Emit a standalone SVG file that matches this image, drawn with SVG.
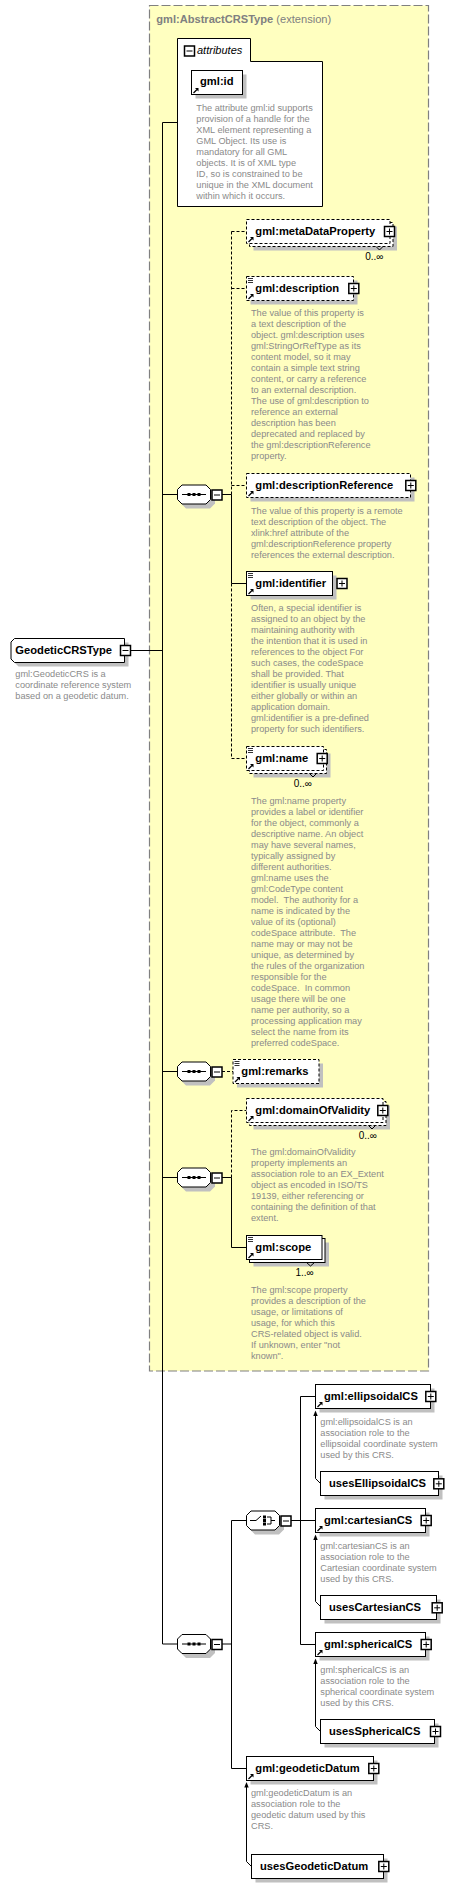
<svg xmlns="http://www.w3.org/2000/svg" width="467" height="1888" viewBox="0 0 467 1888">
<style>
.bx{fill:#fff;stroke:#000;stroke-width:1}
.db{fill:#fff;stroke:#000;stroke-width:1;stroke-dasharray:3 2}
.sh{fill:#c0c0c0}
.l{font-family:"Liberation Sans",Arial,sans-serif;font-weight:bold;font-size:11.2px;fill:#000}
.d{font-family:"Liberation Sans",Arial,sans-serif;font-size:9.2px;fill:#8a8a8a}
.o{font-family:"Liberation Sans",Arial,sans-serif;font-size:10px;fill:#000}
.c{stroke:#000;stroke-width:1;fill:none}
.dc{stroke:#000;stroke-width:1;fill:none;stroke-dasharray:3 2}
</style>
<defs>
<g id="pl"><rect x="0.5" y="0.5" width="10" height="10" fill="#fff" stroke="#000" stroke-width="1.5"/><path d="M2.5 5.5H8.5M5.5 2.5V8.5" stroke="#000" stroke-width="1"/></g>
<g id="mi"><rect x="0.5" y="0.5" width="10" height="10" fill="#fff" stroke="#000" stroke-width="1.5"/><path d="M2.5 5.5H8.5" stroke="#000" stroke-width="1"/></g>
<g id="rf"><path d="M1 7L4.5 3.5" stroke="#000" stroke-width="1.2"/><path d="M2.5 2H6V5.5Z" fill="#000"/></g>
<g id="eq"><path d="M1 1.5H6M1 3.5H6M1 5.5H6" stroke="#000" stroke-width="0.8"/></g>
<g id="seq"><polygon class="sh" points="9,4 33,4 38,9 38,19 33,24 9,24 4,19 4,9"/><polygon fill="#fff" stroke="#000" points="5,0.5 29,0.5 33.5,5 33.5,15 29,19.5 5,19.5 0.5,15 0.5,5"/><path d="M5 10H29" stroke="#000"/><rect x="10.5" y="8.5" width="3" height="3"/><rect x="15.5" y="8.5" width="3" height="3"/><rect x="20.5" y="8.5" width="3" height="3"/></g>
<g id="cho"><polygon class="sh" points="9,4 33,4 38,9 38,19 33,24 9,24 4,19 4,9"/><polygon fill="#fff" stroke="#000" points="5,0.5 29,0.5 33.5,5 33.5,15 29,19.5 5,19.5 0.5,15 0.5,5"/><path d="M4 10H10L15 5.5M21 6.5H25V13.5H21M25 10H29" stroke="#000" fill="none"/><rect x="17" y="5" width="3" height="3"/><rect x="17" y="8.5" width="3" height="3"/><rect x="17" y="12" width="3" height="3"/></g>
</defs>

<g id="ext">
<rect x="149.5" y="5.5" width="279" height="1365.5" fill="#ffffc0" stroke="#808080" stroke-width="1.2" stroke-dasharray="9 3"/>
<text x="156.3" y="22.7" font-family="Liberation Sans,Arial,sans-serif" font-size="11.1px" fill="#808080"><tspan font-weight="bold">gml:AbstractCRSType</tspan> (extension)</text>
</g>

<g id="connectors">
<path class="c" d="M177.5 122.5H162.5V1644H177"/>
<path class="c" d="M131 650.5H162.5"/>
<path class="c" d="M162.5 494.5H177"/>
<path class="c" d="M162.5 1071.5H177"/>
<path class="c" d="M162.5 1177.5H177"/>
<path class="c" d="M222 494.5H231.5"/>
<path class="dc" d="M231.5 231.5V494.5"/>
<path class="c" d="M231.5 494.5V583.5"/>
<path class="dc" d="M231.5 583.5V758.5"/>
<path class="dc" d="M231.5 231.5H246.5M231.5 288.5H246.5M231.5 485.5H246.5M231.5 758.5H246.5"/>
<path class="c" d="M231.5 583.5H246.5"/>
<path class="dc" d="M222 1071.5H233"/>
<path class="c" d="M222 1177.5H231.5"/>
<path class="dc" d="M231.5 1177.5V1110.5H246.5"/>
<path class="c" d="M231.5 1177.5V1247.5H246.5"/>
<path class="c" d="M222 1644H231.5M231.5 1520.5V1768.5H246.5M231.5 1520.5H246"/>
<path class="c" d="M291 1520.5H315.5M300.5 1396.5V1644.5H315.5M300.5 1396.5H315.5"/>
<path class="c" d="M315.5 1414V1478.5L320.5 1483.5"/>
<polygon points="313.3,1416 317.7,1416 315.5,1410.5"/>
<path class="c" d="M315.5 1538V1601.5L320.5 1606.5"/>
<polygon points="313.3,1540 317.7,1540 315.5,1534.5"/>
<path class="c" d="M315.5 1662V1726.5L320.5 1731.5"/>
<polygon points="313.3,1664 317.7,1664 315.5,1658.5"/>
<path class="c" d="M246.5 1785.5V1861.5L251.5 1866.5"/>
<polygon points="244.3,1787.5 248.7,1787.5 246.5,1782"/>
</g>

<g id="GeodeticCRSType">
<path class="sh" d="M18.5 642.5H128.5V666.5H18.5L15 663V646Z"/>
<path class="bx" d="M14.5 638.5H124.5V662.5H14.5L11 659V642Z"/>
<use href="#mi" x="120" y="645"/>
<text class="l" x="15.3" y="654.3">GeodeticCRSType</text>
<text class="d" x="15.3"><tspan x="15.3" y="677">gml:GeodeticCRS is a</tspan><tspan x="15.3" y="688">coordinate reference system</tspan><tspan x="15.3" y="699">based on a geodetic datum.</tspan></text>
</g>

<g id="attributes">
<path class="bx" d="M177.5 38.5H250.5V61.5H322.5V206.5H177.5Z"/>
<use href="#mi" x="184" y="45.5"/>
<text x="197" y="53.5" font-family="Liberation Sans,Arial,sans-serif" font-style="italic" font-size="11px">attributes</text>
</g>

<g id="gml_id">
<rect class="sh" x="195.5" y="74.5" width="51" height="24"/>
<rect class="bx" x="191.5" y="70.5" width="51" height="24"/>
<use href="#rf" x="192.5" y="86"/>
<text class="l" x="200" y="85">gml:id</text>
<text class="d"><tspan x="196.3" y="110.5">The attribute gml:id supports</tspan><tspan x="196.3" y="121.5">provision of a handle for the</tspan><tspan x="196.3" y="132.5">XML element representing a</tspan><tspan x="196.3" y="143.5">GML Object. Its use is</tspan><tspan x="196.3" y="154.5">mandatory for all GML</tspan><tspan x="196.3" y="165.5">objects. It is of XML type</tspan><tspan x="196.3" y="176.5">ID, so is constrained to be</tspan><tspan x="196.3" y="187.5">unique in the XML document</tspan><tspan x="196.3" y="198.5">within which it occurs.</tspan></text>
</g>

<g id="seq1"><use href="#seq" x="177" y="484.5"/><use href="#mi" x="211.5" y="489.5"/></g>
<g id="seq2"><use href="#seq" x="177" y="1061.5"/><use href="#mi" x="211.5" y="1066.5"/></g>
<g id="seq3"><use href="#seq" x="177" y="1167.5"/><use href="#mi" x="211.5" y="1172.5"/></g>
<g id="seq4"><use href="#seq" x="177" y="1634"/><use href="#mi" x="211.5" y="1639"/></g>
<g id="choice"><use href="#cho" x="246" y="1510.5"/><use href="#mi" x="280.5" y="1515.5"/></g>

<g id="metaDataProperty">
<rect class="sh" x="253.5" y="226.5" width="143.5" height="24"/>
<rect class="db" x="249.5" y="222.5" width="143.5" height="24"/>
<rect class="db" x="246.5" y="219.5" width="143.5" height="24"/>
<path class="c" d="M376 246.5L379.5 250L383 246.5" stroke-width="0.8"/>
<use href="#rf" x="247.5" y="235"/>
<use href="#pl" x="384" y="226"/>
<text class="l" x="255.3" y="235.2">gml:metaDataProperty</text>
<text class="o" x="383.5" y="260" text-anchor="end">0..∞</text>
</g>

<g id="description">
<rect class="sh" x="250.5" y="280.5" width="107" height="24"/>
<rect class="db" x="246.5" y="276.5" width="107" height="24"/>
<use href="#eq" x="247" y="277"/>
<use href="#rf" x="247.5" y="292"/>
<use href="#pl" x="348.3" y="283"/>
<text class="l" x="255.3" y="292.2">gml:description</text>
<text class="d"><tspan x="251" y="315.5">The value of this property is</tspan><tspan x="251" y="326.5">a text description of the</tspan><tspan x="251" y="337.5">object. gml:description uses</tspan><tspan x="251" y="348.5">gml:StringOrRefType as its</tspan><tspan x="251" y="359.5">content model, so it may</tspan><tspan x="251" y="370.5">contain a simple text string</tspan><tspan x="251" y="381.5">content, or carry a reference</tspan><tspan x="251" y="392.5">to an external description.</tspan><tspan x="251" y="403.5">The use of gml:description to</tspan><tspan x="251" y="414.5">reference an external</tspan><tspan x="251" y="425.5">description has been</tspan><tspan x="251" y="436.5">deprecated and replaced by</tspan><tspan x="251" y="447.5">the gml:descriptionReference</tspan><tspan x="251" y="458.5">property.</tspan></text>
</g>

<g id="descriptionReference">
<rect class="sh" x="250.5" y="477.5" width="164" height="24"/>
<rect class="db" x="246.5" y="473.5" width="164" height="24"/>
<use href="#rf" x="247.5" y="489"/>
<use href="#pl" x="405.3" y="480"/>
<text class="l" x="255.3" y="489.2">gml:descriptionReference</text>
<text class="d"><tspan x="251" y="513.5">The value of this property is a remote</tspan><tspan x="251" y="524.5">text description of the object. The</tspan><tspan x="251" y="535.5">xlink:href attribute of the</tspan><tspan x="251" y="546.5">gml:descriptionReference property</tspan><tspan x="251" y="557.5">references the external description.</tspan></text>
</g>

<g id="identifier">
<rect class="sh" x="250.5" y="575.5" width="86" height="24"/>
<rect class="bx" x="246.5" y="571.5" width="86" height="24"/>
<use href="#eq" x="247" y="572"/>
<use href="#rf" x="247.5" y="587"/>
<use href="#pl" x="336.5" y="578"/>
<text class="l" x="255.3" y="587.2">gml:identifier</text>
<text class="d"><tspan x="251" y="610.7">Often, a special identifier is</tspan><tspan x="251" y="621.7">assigned to an object by the</tspan><tspan x="251" y="632.7">maintaining authority with</tspan><tspan x="251" y="643.7">the intention that it is used in</tspan><tspan x="251" y="654.7">references to the object For</tspan><tspan x="251" y="665.7">such cases, the codeSpace</tspan><tspan x="251" y="676.7">shall be provided. That</tspan><tspan x="251" y="687.7">identifier is usually unique</tspan><tspan x="251" y="698.7">either globally or within an</tspan><tspan x="251" y="709.7">application domain.</tspan><tspan x="251" y="720.7">gml:identifier is a pre-defined</tspan><tspan x="251" y="731.7">property for such identifiers.</tspan></text>
</g>

<g id="name">
<rect class="sh" x="253.5" y="753.5" width="77" height="24"/>
<rect class="db" x="249.5" y="749.5" width="77" height="24"/>
<rect class="db" x="246.5" y="746.5" width="77" height="24"/>
<path class="c" d="M309.5 773.5L313 777L316.5 773.5" stroke-width="0.8"/>
<use href="#eq" x="247" y="747"/>
<use href="#rf" x="247.5" y="762"/>
<use href="#pl" x="316.7" y="753"/>
<text class="l" x="255.3" y="762.2">gml:name</text>
<text class="o" x="312" y="786.7" text-anchor="end">0..∞</text>
<text class="d"><tspan x="251" y="803.5">The gml:name property</tspan><tspan x="251" y="814.5">provides a label or identifier</tspan><tspan x="251" y="825.5">for the object, commonly a</tspan><tspan x="251" y="836.5">descriptive name. An object</tspan><tspan x="251" y="847.5">may have several names,</tspan><tspan x="251" y="858.5">typically assigned by</tspan><tspan x="251" y="869.5">different authorities.</tspan><tspan x="251" y="880.5">gml:name uses the</tspan><tspan x="251" y="891.5">gml:CodeType content</tspan><tspan x="251" y="902.5" xml:space="preserve">model.  The authority for a</tspan><tspan x="251" y="913.5">name is indicated by the</tspan><tspan x="251" y="924.5">value of its (optional)</tspan><tspan x="251" y="935.5" xml:space="preserve">codeSpace attribute.  The</tspan><tspan x="251" y="946.5">name may or may not be</tspan><tspan x="251" y="957.5">unique, as determined by</tspan><tspan x="251" y="968.5">the rules of the organization</tspan><tspan x="251" y="979.5">responsible for the</tspan><tspan x="251" y="990.5" xml:space="preserve">codeSpace.  In common</tspan><tspan x="251" y="1001.5">usage there will be one</tspan><tspan x="251" y="1012.5">name per authority, so a</tspan><tspan x="251" y="1023.5">processing application may</tspan><tspan x="251" y="1034.5">select the name from its</tspan><tspan x="251" y="1045.5">preferred codeSpace.</tspan></text>
</g>

<g id="remarks">
<rect class="sh" x="237" y="1063.5" width="86" height="24"/>
<rect class="db" x="233" y="1059.5" width="86" height="24"/>
<use href="#eq" x="233.5" y="1060"/>
<use href="#rf" x="234" y="1075"/>
<text class="l" x="241.3" y="1075.2">gml:remarks</text>
</g>

<g id="domainOfValidity">
<rect class="sh" x="253.5" y="1105.5" width="136.5" height="24"/>
<rect class="db" x="249.5" y="1101.5" width="136.5" height="24"/>
<rect class="db" x="246.5" y="1098.5" width="136.5" height="24"/>
<path class="c" d="M368.5 1125.5L372 1129L375.5 1125.5" stroke-width="0.8"/>
<use href="#rf" x="247.5" y="1114"/>
<use href="#pl" x="377.3" y="1105"/>
<text class="l" x="255.3" y="1114.2">gml:domainOfValidity</text>
<text class="o" x="377" y="1139.3" text-anchor="end">0..∞</text>
<text class="d"><tspan x="251" y="1155">The gml:domainOfValidity</tspan><tspan x="251" y="1166">property implements an</tspan><tspan x="251" y="1177">association role to an EX_Extent</tspan><tspan x="251" y="1188">object as encoded in ISO/TS</tspan><tspan x="251" y="1199">19139, either referencing or</tspan><tspan x="251" y="1210">containing the definition of that</tspan><tspan x="251" y="1221">extent.</tspan></text>
</g>

<g id="scope">
<rect class="sh" x="253.5" y="1242.5" width="75.5" height="24"/>
<rect class="bx" x="249.5" y="1238.5" width="75.5" height="24"/>
<rect class="bx" x="246.5" y="1235.5" width="75.5" height="24"/>
<path class="c" d="M306.5 1262.5L310.5 1266L314.5 1262.5" stroke-width="0.8"/>
<use href="#eq" x="247" y="1236"/>
<use href="#rf" x="247.5" y="1251"/>
<text class="l" x="255.3" y="1251.2">gml:scope</text>
<text class="o" x="313.7" y="1276" text-anchor="end">1..∞</text>
<text class="d"><tspan x="251" y="1292.5">The gml:scope property</tspan><tspan x="251" y="1303.5">provides a description of the</tspan><tspan x="251" y="1314.5">usage, or limitations of</tspan><tspan x="251" y="1325.5">usage, for which this</tspan><tspan x="251" y="1336.5">CRS-related object is valid.</tspan><tspan x="251" y="1347.5">If unknown, enter "not</tspan><tspan x="251" y="1358.5">known".</tspan></text>
</g>

<g id="ellipsoidalCS">
<rect class="sh" x="319.5" y="1388.5" width="115" height="24"/>
<rect class="bx" x="315.5" y="1384.5" width="115" height="24"/>
<use href="#rf" x="316.5" y="1400"/>
<use href="#pl" x="425.3" y="1391"/>
<text class="l" x="324" y="1400.2">gml:ellipsoidalCS</text>
<text class="d"><tspan x="320.3" y="1424.5">gml:ellipsoidalCS is an</tspan><tspan x="320.3" y="1435.5">association role to the</tspan><tspan x="320.3" y="1446.5">ellipsoidal coordinate system</tspan><tspan x="320.3" y="1457.5">used by this CRS.</tspan></text>
</g>

<g id="usesEllipsoidalCS">
<rect class="sh" x="324.5" y="1475.5" width="118" height="24"/>
<rect class="bx" x="320.5" y="1471.5" width="118" height="24"/>
<use href="#pl" x="433.3" y="1478.3"/>
<text class="l" x="329" y="1487.2">usesEllipsoidalCS</text>
</g>

<g id="cartesianCS">
<rect class="sh" x="319.5" y="1512.5" width="110" height="24"/>
<rect class="bx" x="315.5" y="1508.5" width="110" height="24"/>
<use href="#rf" x="316.5" y="1524"/>
<use href="#pl" x="420.7" y="1515"/>
<text class="l" x="324" y="1524.2">gml:cartesianCS</text>
<text class="d"><tspan x="320.3" y="1548.5">gml:cartesianCS is an</tspan><tspan x="320.3" y="1559.5">association role to the</tspan><tspan x="320.3" y="1570.5">Cartesian coordinate system</tspan><tspan x="320.3" y="1581.5">used by this CRS.</tspan></text>
</g>

<g id="usesCartesianCS">
<rect class="sh" x="324.5" y="1599.5" width="116" height="24"/>
<rect class="bx" x="320.5" y="1595.5" width="116" height="24"/>
<use href="#pl" x="431.7" y="1602.3"/>
<text class="l" x="329" y="1611.2">usesCartesianCS</text>
</g>

<g id="sphericalCS">
<rect class="sh" x="319.5" y="1636.5" width="110" height="24"/>
<rect class="bx" x="315.5" y="1632.5" width="110" height="24"/>
<use href="#rf" x="316.5" y="1648"/>
<use href="#pl" x="420.7" y="1639"/>
<text class="l" x="324" y="1648.2">gml:sphericalCS</text>
<text class="d"><tspan x="320.3" y="1672.5">gml:sphericalCS is an</tspan><tspan x="320.3" y="1683.5">association role to the</tspan><tspan x="320.3" y="1694.5">spherical coordinate system</tspan><tspan x="320.3" y="1705.5">used by this CRS.</tspan></text>
</g>

<g id="usesSphericalCS">
<rect class="sh" x="324.5" y="1723.5" width="114" height="24"/>
<rect class="bx" x="320.5" y="1719.5" width="114" height="24"/>
<use href="#pl" x="430" y="1726"/>
<text class="l" x="329" y="1735.2">usesSphericalCS</text>
</g>

<g id="geodeticDatum">
<rect class="sh" x="250.5" y="1760.5" width="127" height="24"/>
<rect class="bx" x="246.5" y="1756.5" width="127" height="24"/>
<use href="#rf" x="247.5" y="1772"/>
<use href="#pl" x="368.3" y="1763"/>
<text class="l" x="255.3" y="1772.2">gml:geodeticDatum</text>
<text class="d"><tspan x="251" y="1796">gml:geodeticDatum is an</tspan><tspan x="251" y="1807">association role to the</tspan><tspan x="251" y="1818">geodetic datum used by this</tspan><tspan x="251" y="1829">CRS.</tspan></text>
</g>

<g id="usesGeodeticDatum">
<rect class="sh" x="255.5" y="1858.5" width="132" height="24"/>
<rect class="bx" x="251.5" y="1854.5" width="132" height="24"/>
<use href="#pl" x="378.3" y="1861"/>
<text class="l" x="260" y="1870.2">usesGeodeticDatum</text>
</g>
</svg>
